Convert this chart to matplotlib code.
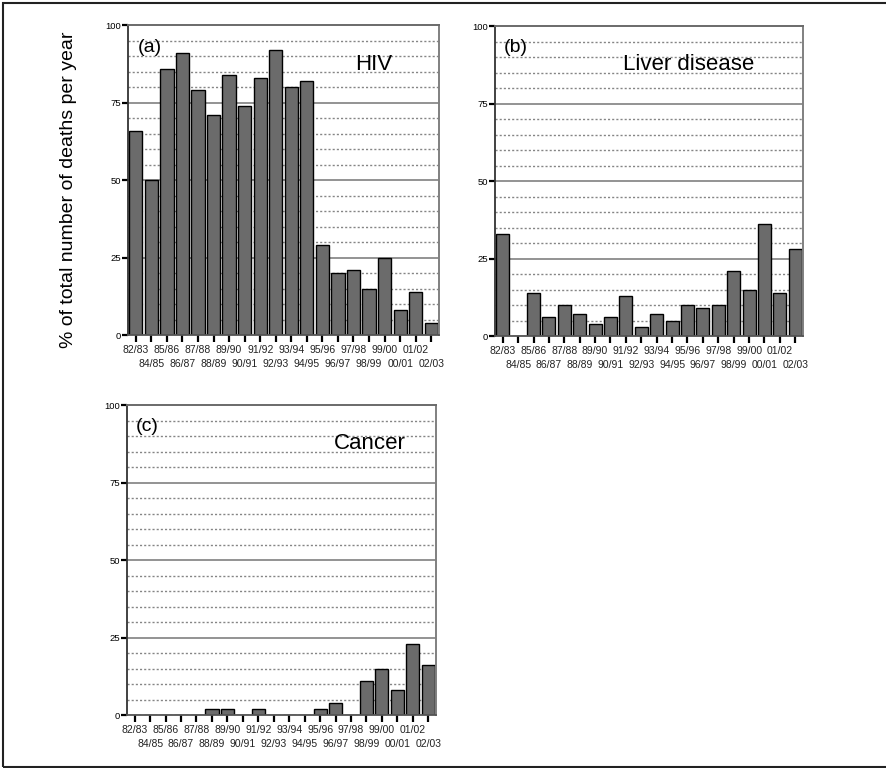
import matplotlib.pyplot as plt
from matplotlib.patches import Rectangle
import numpy as np

plt.rcParams["font.family"] = ["Liberation Sans", "DejaVu Sans"]

years = ["82/83", "84/85", "85/86", "86/87", "87/88", "88/89", "89/90",
         "90/91", "91/92", "92/93", "93/94", "94/95", "95/96", "96/97",
         "97/98", "98/99", "99/00", "00/01", "01/02", "02/03"]

hiv = [66, 50, 86, 91, 79, 71, 84, 74, 83, 92, 80, 82, 29, 20, 21, 15, 25, 8, 14, 4]
liver = [33, 0, 14, 6, 10, 7, 4, 6, 13, 3, 7, 5, 10, 9, 10, 21, 15, 36, 14, 28]
cancer = [0, 0, 0, 0, 0, 2, 2, 0, 2, 0, 0, 0, 2, 4, 0, 11, 15, 8, 23, 16]

panels = [
    # values, tag, title, axes rect, title x position
    (hiv, "(a)", "HIV", [0.1445, 0.5638, 0.351, 0.403], 0.79),
    (liver, "(b)", "Liver disease", [0.5587, 0.5625, 0.3476, 0.4036], 0.63),
    (cancer, "(c)", "Cancer", [0.1433, 0.069, 0.3488, 0.4036], 0.785),
]

fig = plt.figure(figsize=(8.86, 7.68), dpi=100)

# outer frame around the whole figure
fig.patches.append(Rectangle((3 / 886, 1.5 / 768), 1.0, 763.5 / 768,
                             transform=fig.transFigure, fill=False,
                             edgecolor="#222222", linewidth=1.5))

x = np.arange(len(years))

for values, tag, title, rect, tx in panels:
    ax = fig.add_axes(rect)
    ax.set_xlim(-0.5, len(years) - 0.5)
    ax.set_ylim(0, 100)

    # reference lines: dotted every 5, solid at quarters
    for v in range(5, 100, 5):
        if v % 25 == 0:
            ax.axhline(v, color="#8a8a8a", linewidth=1.3, zorder=1)
        else:
            ax.axhline(v, color="#858585", linewidth=1.0,
                       linestyle=(0, (1.5, 1.5)), zorder=1)

    ax.bar(x, values, width=0.85, color="#6b6b6b", edgecolor="black",
           linewidth=1.0, zorder=2)

    # year labels staggered on two rows: even on top, odd below
    ax.set_xticks(x[::2])
    ax.set_xticklabels(years[::2], fontsize=7.5, color="#222222")
    ax.set_xticks(x[1::2], minor=True)
    ax.set_xticklabels(years[1::2], minor=True, fontsize=7.5, color="#222222")
    ax.tick_params(axis="x", which="major", direction="out", length=5,
                   width=1.6, pad=2, color="black")
    ax.tick_params(axis="x", which="minor", direction="out", length=5,
                   width=1.6, pad=12.5, color="black")

    ax.set_yticks([0, 25, 50, 75, 100])
    ax.tick_params(axis="y", direction="out", length=4, width=1.6,
                   labelsize=6.8, pad=1, color="black")

    ax.spines["left"].set_color("#333333")
    ax.spines["left"].set_linewidth(1.3)
    ax.spines["bottom"].set_color("#555555")
    ax.spines["bottom"].set_linewidth(1.3)
    ax.spines["top"].set_color("#6a6a6a")
    ax.spines["top"].set_linewidth(1.4)
    ax.spines["right"].set_color("#808080")
    ax.spines["right"].set_linewidth(1.4)

    ax.text(0.03, 0.93, tag, transform=ax.transAxes, fontsize=14,
            ha="left", va="center")
    ax.text(tx, 0.875, title, transform=ax.transAxes, fontsize=16,
            ha="center", va="center")

    if tag == "(a)":
        ax.set_ylabel("% of total number of deaths per year", fontsize=14)
        ax.yaxis.set_label_coords(-0.165, 0.47)

fig.savefig("out.png", dpi=100)
